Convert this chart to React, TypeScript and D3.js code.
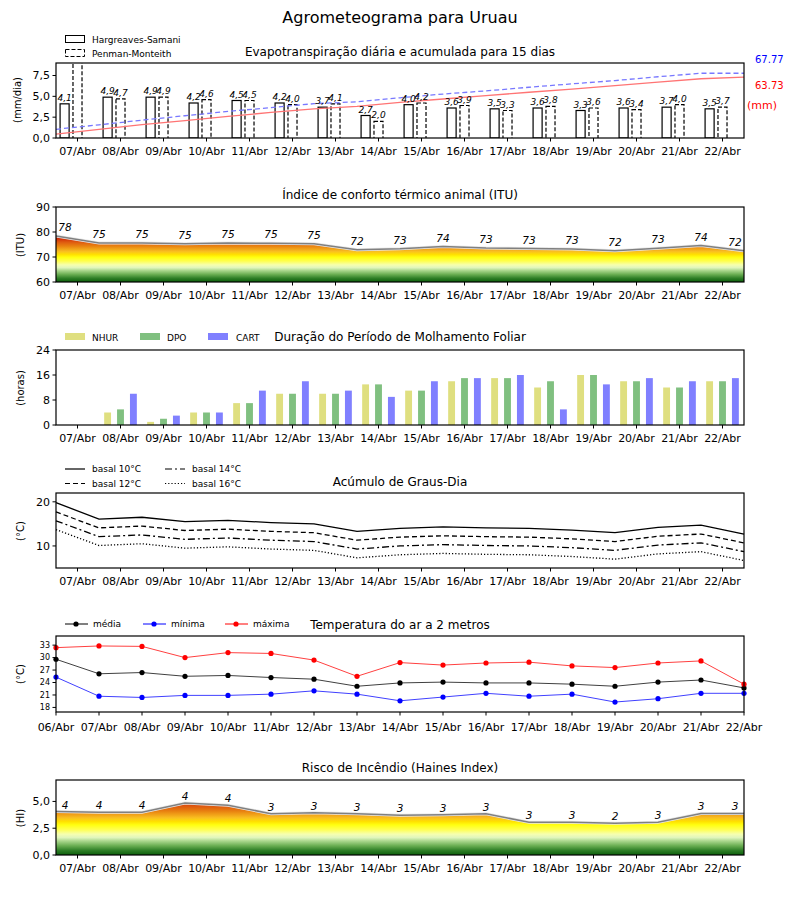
import React from 'react';
import * as d3 from 'd3';

// dias (posições 0..16)
const days = [
  '06/Abr', '07/Abr', '08/Abr', '09/Abr', '10/Abr', '11/Abr', '12/Abr', '13/Abr', '14/Abr',
  '15/Abr', '16/Abr', '17/Abr', '18/Abr', '19/Abr', '20/Abr', '21/Abr', '22/Abr',
];

// evapotranspiração diária (07..22)
const hsDaily = [4.1, 4.9, 4.9, 4.2, 4.5, 4.2, 3.7, 2.7, 4.0, 3.6, 3.5, 3.6, 3.3, 3.6, 3.7, 3.5];
const pmDaily = [9.1, 4.7, 4.9, 4.6, 4.5, 4.0, 4.1, 2.0, 4.2, 3.9, 3.3, 3.8, 3.6, 3.4, 4.0, 3.7];
// acumulada (06..22)
const hsCum = [4.1, 9.0, 13.9, 18.1, 22.6, 26.8, 30.5, 33.2, 37.2, 40.8, 44.3, 47.9, 51.2, 54.8, 58.5, 62.0, 63.73];
const pmCum = [9.1, 13.8, 18.7, 23.3, 27.8, 31.8, 35.9, 37.9, 42.1, 46.0, 49.3, 53.1, 56.7, 60.1, 64.1, 67.77, 67.77];

// ITU (06..22)
const itu = [78.4, 75.6, 75.6, 75.3, 75.6, 75.5, 75.3, 72.9, 73.3, 74.2, 73.6, 73.4, 73.2, 72.5, 73.5, 74.6, 72.5];

// molhamento foliar (07..22)
const nhur = [0, 4, 1, 4, 7, 10, 10, 13, 11, 14, 15, 12, 16, 14, 12, 14];
const dpo = [0, 5, 2, 4, 7, 10, 10, 13, 11, 15, 15, 14, 16, 14, 12, 14];
const cart = [0, 10, 3, 4, 11, 14, 11, 9, 14, 15, 16, 5, 13, 15, 14, 15];

// graus-dia (06..22)
const gd10 = [19.8, 16.1, 16.5, 15.5, 15.8, 15.3, 15.0, 13.3, 14.0, 14.3, 14.1, 14.0, 13.6, 13.0, 14.2, 14.7, 12.7];
const gd12 = [17.7, 14.1, 14.5, 13.5, 13.8, 13.3, 13.0, 11.3, 12.0, 12.3, 12.1, 12.0, 11.6, 11.0, 12.2, 12.7, 10.7];
const gd14 = [15.7, 12.1, 12.5, 11.5, 11.8, 11.3, 11.0, 9.3, 10.0, 10.3, 10.1, 10.0, 9.6, 9.0, 10.2, 10.7, 8.7];
const gd16 = [13.7, 10.1, 10.5, 9.5, 9.8, 9.3, 9.0, 7.3, 8.0, 8.3, 8.1, 8.0, 7.6, 7.0, 8.2, 8.7, 6.7];

// temperatura (06..22)
const tMed = [29.6, 26.1, 26.4, 25.5, 25.7, 25.2, 24.8, 23.1, 23.9, 24.1, 23.9, 23.9, 23.6, 23.1, 24.1, 24.6, 22.7];
const tMin = [25.3, 20.7, 20.4, 20.9, 20.9, 21.2, 22.0, 21.2, 19.6, 20.5, 21.4, 20.7, 21.2, 19.3, 20.1, 21.4, 21.4];
const tMax = [32.4, 32.8, 32.7, 30.0, 31.2, 31.0, 29.4, 25.5, 28.8, 28.2, 28.7, 28.9, 28.0, 27.6, 28.7, 29.2, 23.6];

// Haines (06..22)
const haines = [4.05, 4.0, 4.0, 4.85, 4.65, 3.85, 3.95, 3.85, 3.7, 3.75, 3.85, 3.05, 3.05, 2.97, 3.05, 3.88, 3.88];

const FONT = 'DejaVu Sans, sans-serif';
const L = 56;
const R = 744;
const x = d3.scaleLinear().domain([0, 16]).range([L, R]);
const idx = d3.range(17);
const comma = (v: number) => v.toFixed(1).replace('.', ',');

const Frame = ({ top, bottom }: { top: number; bottom: number }) => (
  <rect x={L} y={top} width={R - L} height={bottom - top} fill="none" stroke="#000" strokeWidth={1.2} />
);

const YAxis = ({ y, ticks, fmt, size = 11 }: { y: d3.ScaleLinear<number, number>; ticks: number[]; fmt: (v: number) => string; size?: number }) => (
  <g>
    {ticks.map((t) => (
      <g key={t}>
        <line x1={L - 3.5} x2={L} y1={y(t)} y2={y(t)} stroke="#000" />
        <text x={L - 6} y={y(t)} dy="0.35em" textAnchor="end" fontSize={size} fontFamily={FONT}>
          {fmt(t)}
        </text>
      </g>
    ))}
  </g>
);

const XCatAxis = ({ bottom }: { bottom: number }) => (
  <g>
    {d3.range(16).map((j) => (
      <g key={j}>
        <line x1={x(j + 0.5)} x2={x(j + 0.5)} y1={bottom} y2={bottom + 3.5} stroke="#000" />
        <text x={x(j + 0.5)} y={bottom + 17} textAnchor="middle" fontSize={11} fontFamily={FONT}>
          {days[j + 1]}
        </text>
      </g>
    ))}
  </g>
);

const YLabel = ({ text, cy, cx = 24 }: { text: string; cy: number; cx?: number }) => (
  <text transform={`translate(${cx},${cy}) rotate(-90)`} textAnchor="middle" fontSize={10} fontFamily={FONT}>
    {text}
  </text>
);

const Title = ({ text, y }: { text: string; y: number }) => (
  <text x={400} y={y} textAnchor="middle" fontSize={12} fontFamily={FONT}>
    {text}
  </text>
);

// gradiente verde -> amarelo -> laranja -> vermelho
const gradStops: [number, string][] = [
  [0, '#0b5e0b'],
  [0.08, '#2f7f27'],
  [0.16, '#6aae52'],
  [0.24, '#a9d68c'],
  [0.3, '#dff5bc'],
  [0.36, '#f6ffb0'],
  [0.44, '#ffff50'],
  [0.52, '#ffff10'],
  [0.58, '#ffe000'],
  [0.64, '#f9c020'],
  [0.7, '#f0a018'],
  [0.76, '#e88010'],
  [0.84, '#de5a10'],
  [0.92, '#d02a05'],
  [1, '#c80000'],
];

const Gradient = ({ id, y1, y2 }: { id: string; y1: number; y2: number }) => (
  <linearGradient id={id} gradientUnits="userSpaceOnUse" x1={0} x2={0} y1={y1} y2={y2}>
    {gradStops.map(([o, c]) => (
      <stop key={o} offset={o} stopColor={c} />
    ))}
  </linearGradient>
);

const ValueLabel = ({ k, yv, v }: { k: number; yv: number; v: number }) => {
  let px = x(k);
  if (k === 0) px += 9;
  if (k === 16) px -= 9;
  return (
    <text x={px} y={yv - 5} textAnchor="middle" fontSize={10.5} fontStyle="italic" fontFamily={FONT}>
      {Math.floor(v)}
    </text>
  );
};

const App = () => {
  // ET
  const etTop = 63, etBot = 138;
  const yEt = d3.scaleLinear().domain([0, 9]).range([etBot, etTop]);
  const yCum = d3.scaleLinear().domain([0, 78.5]).range([etBot, etTop]);
  const bw = x(0.21) - x(0);
  const cumLine = d3.line<number>().x((_, i) => x(i)).y((d) => yCum(d));

  // ITU
  const ituTop = 207, ituBot = 282;
  const yItu = d3.scaleLinear().domain([60, 90]).range([ituBot, ituTop]);
  const ituArea = d3.area<number>().x((_, i) => x(i)).y0(ituBot).y1((d) => yItu(d));
  const ituLine = d3.line<number>().x((_, i) => x(i)).y((d) => yItu(d));

  // molhamento
  const wTop = 350, wBot = 425;
  const yW = d3.scaleLinear().domain([0, 24]).range([wBot, wTop]);
  const ww = x(0.16) - x(0);
  const wetSeries = [
    { data: nhur, color: '#dfdf80', off: 0.2, name: 'NHUR' },
    { data: dpo, color: '#80c080', off: 0.5, name: 'DPO' },
    { data: cart, color: '#8080ff', off: 0.8, name: 'CART' },
  ];

  // graus-dia
  const gTop = 493, gBot = 568;
  const yG = d3.scaleLinear().domain([5, 22]).range([gBot, gTop]);
  const gLine = d3.line<number>().x((_, i) => x(i)).y((d) => yG(d));
  const gdSeries = [
    { data: gd10, dash: undefined, name: 'basal 10°C' },
    { data: gd12, dash: '5,3', name: 'basal 12°C' },
    { data: gd14, dash: '7,3,2,3', name: 'basal 14°C' },
    { data: gd16, dash: '1.2,2', name: 'basal 16°C' },
  ];

  // temperatura
  const tTop = 636, tBot = 712;
  const yT = d3.scaleLinear().domain([16.9, 35.2]).range([tBot, tTop]);
  const tLine = d3.line<number>().x((_, i) => x(i)).y((d) => yT(d));
  const tSeries = [
    { data: tMed, color: '#000000', name: 'média', lx: 65 },
    { data: tMin, color: '#0000ff', name: 'mínima', lx: 143 },
    { data: tMax, color: '#ff0000', name: 'máxima', lx: 225 },
  ];

  // Haines
  const hTop = 780, hBot = 855;
  const yH = d3.scaleLinear().domain([0, 7]).range([hBot, hTop]);
  const hArea = d3.area<number>().x((_, i) => x(i)).y0(hBot).y1((d) => yH(d));
  const hLine = d3.line<number>().x((_, i) => x(i)).y((d) => yH(d));

  return (
    <svg
      width={800}
      height={900}
      style={{ position: 'absolute', left: 0, top: 0, background: '#fff' }}
      fontFamily={FONT}
    >
      <defs>
        <clipPath id="clipEt">
          <rect x={L} y={etTop} width={R - L} height={etBot - etTop} />
        </clipPath>
        <Gradient id="gItu" y1={yItu(60)} y2={yItu(79)} />
        <Gradient id="gHai" y1={yH(0)} y2={yH(5.4)} />
      </defs>
      <rect x={0} y={0} width={800} height={900} fill="#fff" />

      <text x={400} y={23} textAnchor="middle" fontSize={16} fontFamily={FONT}>
        Agrometeograma para Uruau
      </text>

      {/* Evapotranspiração */}
      <rect x={65.5} y={35.5} width={19} height={7} fill="#fff" stroke="#000" />
      <text x={92} y={42.5} fontSize={9} fontFamily={FONT}>Hargreaves-Samani</text>
      <rect x={65.5} y={49.5} width={19} height={7} fill="#fff" stroke="#000" strokeDasharray="4,2" />
      <text x={92} y={56.5} fontSize={9} fontFamily={FONT}>Penman-Monteith</text>
      <Title text="Evapotranspiração diária e acumulada para 15 dias" y={56} />
      <g clipPath="url(#clipEt)">
        {hsDaily.map((v, j) => (
          <rect key={'hs' + j} x={x(j + 0.2) - bw / 2} y={yEt(v)} width={bw} height={etBot - yEt(v)} fill="#fff" stroke="#000" strokeWidth={1.2} />
        ))}
        {pmDaily.map((v, j) => (
          <rect key={'pm' + j} x={x(j + 0.5) - bw / 2} y={yEt(v)} width={bw} height={etBot - yEt(v) + 2} fill="#fff" stroke="#000" strokeWidth={1.2} strokeDasharray="4,2" />
        ))}
        <path d={cumLine(hsCum) ?? ''} fill="none" stroke="#ff7474" strokeWidth={1.3} />
        <path d={cumLine(pmCum) ?? ''} fill="none" stroke="#7878ff" strokeWidth={1.3} strokeDasharray="5,3" />
      </g>
      {hsDaily.map((v, j) => (
        <text key={'hl' + j} x={x(j + 0.2)} y={yEt(v) - 3} textAnchor="middle" fontSize={9} fontStyle="italic" fontFamily={FONT}>
          {comma(v)}
        </text>
      ))}
      {pmDaily.map((v, j) =>
        v > 9 ? null : (
          <text key={'pl' + j} x={x(j + 0.5)} y={yEt(v) - 3} textAnchor="middle" fontSize={9} fontStyle="italic" fontFamily={FONT}>
            {comma(v)}
          </text>
        )
      )}
      <Frame top={etTop} bottom={etBot} />
      <YAxis y={yEt} ticks={[0, 2.5, 5, 7.5]} fmt={comma} />
      <XCatAxis bottom={etBot} />
      <YLabel text="(mm/dia)" cy={100} cx={21} />
      <text x={755} y={63} fontSize={10} fill="#0000ff" fontFamily={FONT}>{pmCum[16].toFixed(2)}</text>
      <text x={755} y={89} fontSize={10} fill="#ff0000" fontFamily={FONT}>{hsCum[16].toFixed(2)}</text>
      <text x={747} y={109} fontSize={11} fill="#ff0000" fontFamily={FONT}>(mm)</text>

      {/* ITU */}
      <Title text="Índice de conforto térmico animal (ITU)" y={199} />
      <path d={ituArea(itu) ?? ''} fill="url(#gItu)" />
      <path d={ituLine(itu) ?? ''} fill="none" stroke="#e8e8e8" strokeWidth={3} />
      <path d={ituLine(itu) ?? ''} fill="none" stroke="#808080" strokeWidth={1.5} />
      {itu.map((v, k) => (
        <ValueLabel key={k} k={k} yv={yItu(v)} v={v} />
      ))}
      <Frame top={ituTop} bottom={ituBot} />
      <YAxis y={yItu} ticks={[60, 70, 80, 90]} fmt={(v) => String(v)} />
      <XCatAxis bottom={ituBot} />
      <YLabel text="(ITU)" cy={245} />

      {/* Molhamento foliar */}
      {wetSeries.map((s, i) => (
        <g key={s.name}>
          <rect x={[65, 140, 208][i]} y={333} width={20} height={7} fill={s.color} />
          <text x={[92, 167, 236][i]} y={340.5} fontSize={9} fontFamily={FONT}>{s.name}</text>
        </g>
      ))}
      <Title text="Duração do Período de Molhamento Foliar" y={341} />
      {wetSeries.map((s) =>
        s.data.map((v, j) => (
          <rect key={s.name + j} x={x(j + s.off) - ww / 2} y={yW(v)} width={ww} height={wBot - yW(v)} fill={s.color} />
        ))
      )}
      <Frame top={wTop} bottom={wBot} />
      <YAxis y={yW} ticks={[0, 8, 16, 24]} fmt={(v) => String(v)} />
      <XCatAxis bottom={wBot} />
      <YLabel text="(horas)" cy={388} />

      {/* Graus-dia */}
      {gdSeries.map((s, i) => {
        const lx = i < 2 ? 65 : 165;
        const ly = i % 2 === 0 ? 469 : 483.5;
        return (
          <g key={s.name}>
            <line x1={lx} x2={lx + 20} y1={ly} y2={ly} stroke="#000" strokeWidth={1.2} strokeDasharray={s.dash} />
            <text x={lx + 27} y={ly + 3.3} fontSize={9} fontFamily={FONT}>{s.name}</text>
          </g>
        );
      })}
      <Title text="Acúmulo de Graus-Dia" y={486} />
      {gdSeries.map((s) => (
        <path key={s.name} d={gLine(s.data) ?? ''} fill="none" stroke="#000" strokeWidth={1.3} strokeDasharray={s.dash} />
      ))}
      <Frame top={gTop} bottom={gBot} />
      <YAxis y={yG} ticks={[10, 20]} fmt={(v) => String(v)} />
      <XCatAxis bottom={gBot} />
      <YLabel text="(°C)" cy={531} />

      {/* Temperatura */}
      {tSeries.map((s) => (
        <g key={s.name}>
          <line x1={s.lx} x2={s.lx + 23} y1={624} y2={624} stroke={s.color} strokeWidth={1} />
          <circle cx={s.lx + 11} cy={624} r={2.6} fill={s.color} />
          <text x={s.lx + 28} y={627.3} fontSize={9} fontFamily={FONT}>{s.name}</text>
        </g>
      ))}
      <Title text="Temperatura do ar a 2 metros" y={629} />
      {tSeries.map((s) => (
        <g key={s.name + 'd'}>
          <path d={tLine(s.data) ?? ''} fill="none" stroke={s.color} strokeOpacity={0.75} strokeWidth={1} />
          {s.data.map((v, k) => (
            <circle key={k} cx={x(k)} cy={yT(v)} r={2.6} fill={s.color} />
          ))}
        </g>
      ))}
      <Frame top={tTop} bottom={tBot} />
      <YAxis y={yT} ticks={[18, 21, 24, 27, 30, 33]} fmt={(v) => String(v)} size={8} />
      {idx.map((k) => (
        <g key={k}>
          <line x1={x(k)} x2={x(k)} y1={tBot} y2={tBot + 3.5} stroke="#000" />
          <text x={x(k)} y={tBot + 19} textAnchor="middle" fontSize={11} fontFamily={FONT}>
            {days[k]}
          </text>
        </g>
      ))}
      <YLabel text="(°C)" cy={674} />

      {/* Haines */}
      <Title text="Risco de Incêndio (Haines Index)" y={772} />
      <path d={hArea(haines) ?? ''} fill="url(#gHai)" />
      <path d={hLine(haines) ?? ''} fill="none" stroke="#e8e8e8" strokeWidth={3} />
      <path d={hLine(haines) ?? ''} fill="none" stroke="#808080" strokeWidth={1.5} />
      {haines.map((v, k) => (
        <ValueLabel key={k} k={k} yv={yH(v) + 2} v={v} />
      ))}
      <Frame top={hTop} bottom={hBot} />
      <YAxis y={yH} ticks={[0, 2.5, 5]} fmt={comma} />
      <XCatAxis bottom={hBot} />
      <YLabel text="(HI)" cy={818} />
    </svg>
  );
};

export default App;
